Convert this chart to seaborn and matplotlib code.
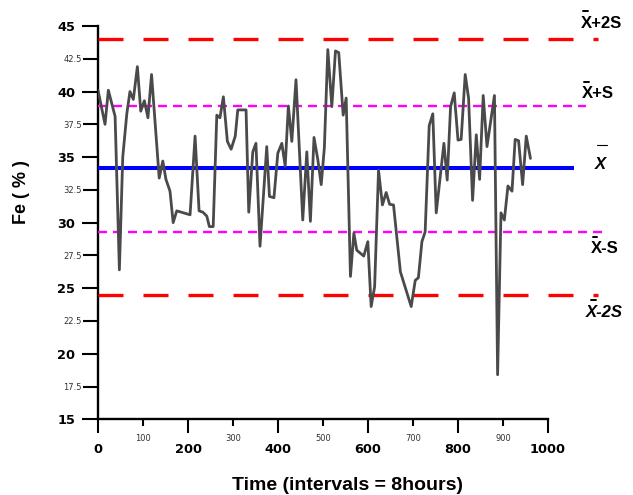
import matplotlib
matplotlib.use("Agg")
import matplotlib.pyplot as plt
from matplotlib.lines import Line2D
import seaborn as sns
import pandas as pd

# Fe content per 8-hour interval
time = [0, 15.6, 23, 38, 47.5, 55, 64, 71, 78.5, 87.5, 95, 103, 111, 119, 136,
        144, 151, 160, 167, 175, 204.6, 215.7, 224.6, 233, 241.7, 247.5, 256,
        264, 271, 278.6, 287.5, 295.8, 305, 310.6, 329, 335, 344, 351, 360, 375,
        381, 391, 399.6, 408.5, 416, 423, 430.7, 440, 455, 464, 472, 480, 488.5,
        496, 503, 510.7, 519.6, 527.7, 535, 544.8, 551.5, 561, 568.6, 575,
        590.6, 599.6, 607, 614.7, 623.4, 632, 640.4, 648, 656.7, 672, 696, 705,
        712, 719.8, 727, 736, 744, 751.6, 768.7, 776, 783.5, 791.6, 800, 807,
        816, 823.5, 832.4, 840.6, 848, 856, 864.4, 881, 888, 895.5, 903, 911,
        920, 927, 934.6, 943.6, 951.7, 961]
fe = [40.1, 37.5, 40.1, 38.1, 26.4, 35.0, 38.3, 40.0, 39.4, 41.9, 38.5, 39.3,
      38.0, 41.3, 33.4, 34.7, 33.3, 32.4, 30.0, 30.9, 30.6, 36.6, 30.9, 30.8,
      30.5, 29.7, 29.7, 38.2, 38.0, 39.6, 36.2, 35.6, 36.6, 38.6, 38.6, 30.8,
      35.4, 36.05, 28.2, 35.8, 32.0, 31.9, 35.3, 36.05, 34.3, 38.9, 36.2, 40.9,
      30.2, 35.4, 30.1, 36.5, 34.8, 32.9, 35.7, 43.2, 38.85, 43.1, 42.97, 38.2,
      39.5, 25.9, 29.2, 27.9, 27.45, 28.55, 23.6, 25.1, 34.0, 31.35, 32.3, 31.4,
      31.35, 26.25, 23.6, 25.6, 25.8, 28.55, 29.3, 37.4, 38.3, 30.75, 36.05,
      33.25, 38.85, 39.9, 36.3, 36.35, 41.3, 39.5, 31.7, 36.7, 33.3, 39.7, 35.8,
      39.7, 18.4, 30.75, 30.2, 32.8, 32.4, 36.35, 36.25, 32.9, 36.6, 34.9]

# Control limits
mean_fe = 34.15
upper_2s = 44.0
upper_1s = 38.9
lower_1s = 29.3
lower_2s = 24.5

limit_labels = ["X+2S", "X+S", "X", "X-S", "X-2S"]

x_major = [0, 200, 400, 600, 800, 1000]
x_minor = [100, 300, 500, 700, 900]
y_major = [15, 20, 25, 30, 35, 40, 45]
y_minor = [17.5, 22.5, 27.5, 32.5, 37.5, 42.5]

sns.set_style("ticks")
plt.rcParams["font.family"] = ["DejaVu Sans"]
plt.rcParams["lines.scale_dashes"] = False
plt.rcParams["text.color"] = "black"
plt.rcParams["xtick.color"] = "black"
plt.rcParams["ytick.color"] = "black"
plt.rcParams["axes.labelcolor"] = "black"

W, H = 633, 495
fig = plt.figure(figsize=(W / 100, H / 100), dpi=100)
ax = fig.add_axes([98 / W, 1 - 419.3 / H, 450 / W, 393.3 / H])

df = pd.DataFrame({"time": time, "fe": fe})
sns.lineplot(data=df, x="time", y="fe", color="#4a4a4a", linewidth=2.0,
             estimator=None, sort=False, ax=ax, zorder=4)

px_per_pt = 100 / 72
# reference lines extend past the end of the x-axis
ax.plot([0, 1111], [upper_2s, upper_2s], color="#ff0000", lw=2.4,
        dashes=(25 / px_per_pt, 20 / px_per_pt), clip_on=False, zorder=3)
ax.plot([0, 1111], [lower_2s, lower_2s], color="#ff0000", lw=2.4,
        dashes=(25 / px_per_pt, 20 / px_per_pt), clip_on=False, zorder=3)
ax.plot([0, 1085], [upper_1s, upper_1s], color="#ff00ff", lw=1.7,
        dashes=(9 / px_per_pt, 6 / px_per_pt), clip_on=False, zorder=3)
ax.plot([0, 1122], [lower_1s, lower_1s], color="#ff00ff", lw=1.7,
        dashes=(9 / px_per_pt, 6 / px_per_pt), clip_on=False, zorder=3)
ax.plot([0, 1058], [mean_fe, mean_fe], color="#0000ff", lw=2.9,
        solid_capstyle="butt", clip_on=False, zorder=3)

ax.set_xlim(0, 1000)
ax.set_ylim(15, 45)
sns.despine(ax=ax)
for s in ("left", "bottom"):
    ax.spines[s].set_linewidth(1.7)
    ax.spines[s].set_color("black")

ax.set_xticks(x_major)
ax.set_xticklabels([str(v) for v in x_major], fontweight="bold", fontsize=9.3,
                   color="black")
ax.set_xticks(x_minor, minor=True)
ax.set_xticklabels([str(v) for v in x_minor], minor=True, fontsize=6,
                   color="#333333")
ax.set_yticks(y_major)
ax.set_yticklabels([str(v) for v in y_major], fontweight="bold", fontsize=9.3,
                   color="black")
ax.set_yticks(y_minor, minor=True)
ax.set_yticklabels([str(v) for v in y_minor], minor=True, fontsize=6,
                   color="#333333")

ax.tick_params(axis="x", which="major", length=10, width=1.5, pad=7.2,
               color="black")
ax.tick_params(axis="x", which="minor", length=5, width=1.5, pad=5.8,
               color="black")
ax.tick_params(axis="y", which="major", length=11.5, width=1.5, pad=5,
               color="black")
ax.tick_params(axis="y", which="minor", length=10.8, width=1.5, pad=0.7,
               color="black")
ax.set_xlabel("")
ax.set_ylabel("")

lab_font = ["Liberation Sans", "DejaVu Sans"]


def fx(px):
    return px / W


def fy(py):
    return 1 - py / H


fig.text(fx(347), fy(485), "Time (intervals = 8hours)", ha="center",
         va="center", fontsize=14, fontweight="bold", family=lab_font,
         color="black")
fig.text(fx(22), fy(192), "Fe ( % )", ha="center", va="center", rotation=90,
         fontsize=13, fontweight="bold", family=lab_font, color="black")

# control-limit names with bars over the X
label_specs = [
    (limit_labels[0], 581, 24, "normal", (583, 588, 11)),
    (limit_labels[1], 582, 93.5, "normal", (584, 589, 82)),
    (limit_labels[2], 595, 165, "italic", (597, 607, 145)),
    (limit_labels[3], 591, 248.5, "normal", (593, 597, 237)),
    (limit_labels[4], 585.5, 312.5, "italic", (591, 596, 300)),
]
for text, x0, yc, style, (b0, b1, by) in label_specs:
    fig.text(fx(x0), fy(yc), text, ha="left", va="center", fontsize=12,
             fontweight="bold", fontstyle=style, family=lab_font,
             color="black")
    fig.add_artist(Line2D([fx(b0), fx(b1)], [fy(by), fy(by)],
                          transform=fig.transFigure, color="black",
                          lw=1.4 if b1 - b0 < 8 else 0.8))

fig.savefig("out.png", dpi=100, facecolor="white")
